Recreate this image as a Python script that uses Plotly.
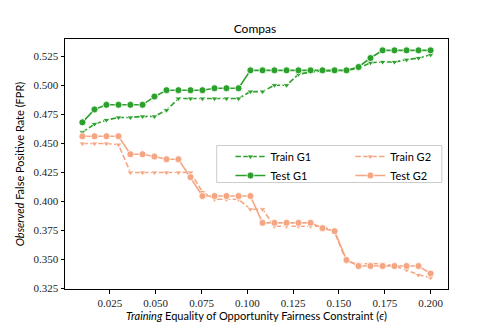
import plotly.graph_objects as go

eps = [0.0100, 0.0166, 0.0231, 0.0297, 0.0362, 0.0428, 0.0493, 0.0559, 0.0624, 0.0690,
       0.0755, 0.0821, 0.0886, 0.0952, 0.1017, 0.1083, 0.1148, 0.1214, 0.1279, 0.1345,
       0.1410, 0.1476, 0.1541, 0.1607, 0.1672, 0.1738, 0.1803, 0.1869, 0.1934, 0.2000]

train_g1 = [0.4593, 0.4664, 0.4699, 0.4721, 0.4721, 0.4730, 0.4730, 0.4784, 0.4884, 0.4884,
            0.4884, 0.4884, 0.4884, 0.4884, 0.4944, 0.4944, 0.4999, 0.4999, 0.5093, 0.5113,
            0.5121, 0.5127, 0.5127, 0.5144, 0.5193, 0.5199, 0.5199, 0.5219, 0.5233, 0.5261]
test_g1 = [0.4679, 0.4790, 0.4830, 0.4830, 0.4830, 0.4830, 0.4901, 0.4956, 0.4956, 0.4956,
           0.4956, 0.4973, 0.4973, 0.4973, 0.5127, 0.5127, 0.5127, 0.5127, 0.5127, 0.5127,
           0.5127, 0.5127, 0.5127, 0.5156, 0.5233, 0.5299, 0.5299, 0.5299, 0.5299, 0.5299]
train_g2 = [0.4496, 0.4496, 0.4496, 0.4487, 0.4247, 0.4247, 0.4247, 0.4247, 0.4247, 0.4247,
            0.4079, 0.4016, 0.4016, 0.4016, 0.3930, 0.3930, 0.3784, 0.3784, 0.3784, 0.3784,
            0.3784, 0.3736, 0.3479, 0.3460, 0.3460, 0.3460, 0.3441, 0.3407, 0.3364, 0.3341]
test_g2 = [0.4559, 0.4559, 0.4559, 0.4559, 0.4404, 0.4404, 0.4384, 0.4361, 0.4361, 0.4207,
           0.4044, 0.4044, 0.4044, 0.4044, 0.4044, 0.3813, 0.3813, 0.3813, 0.3813, 0.3813,
           0.3767, 0.3741, 0.3493, 0.3441, 0.3441, 0.3441, 0.3441, 0.3441, 0.3441, 0.3376]

x_ticks = [0.025, 0.050, 0.075, 0.100, 0.125, 0.150, 0.175, 0.200]
y_ticks = [0.325, 0.350, 0.375, 0.400, 0.425, 0.450, 0.475, 0.500, 0.525]

GREEN = "#2ca02c"
ORANGE = "#f4a582"
SANS = "Lato"
SERIF = "Liberation Serif"

fig = go.Figure()

def add(name, y, color, dash, symbol, size, legend):
    fig.add_trace(go.Scatter(
        x=eps, y=y, name=name, mode="lines+markers", legend=legend,
        line=dict(color=color, width=1.6, dash=dash),
        marker=dict(symbol=symbol, size=size, color=color,
                    line=dict(color="white", width=0.8)),
    ))

add("Train G1", train_g1, GREEN, "5.5px,2.4px", "triangle-down", 6, "legend")
add("Test G1", test_g1, GREEN, "solid", "circle", 7, "legend")
add("Train G2", train_g2, ORANGE, "5.5px,2.4px", "triangle-down", 6, "legend2")
add("Test G2", test_g2, ORANGE, "solid", "circle", 7, "legend2")

leg_common = dict(orientation="v", yanchor="top", xanchor="left",
                  bgcolor="rgba(0,0,0,0)", borderwidth=0,
                  font=dict(family=SANS, size=11, color="black"),
                  tracegroupgap=0)

# page body has an 8px default margin, so the figure is 8px smaller and margins shifted
fig.update_layout(
    width=490, height=324,
    margin=dict(l=54, r=50, t=31, b=42),
    paper_bgcolor="white", plot_bgcolor="white",
    title=dict(text="Compas", x=0.504, xanchor="center", y=0.935, yanchor="middle",
               font=dict(family=SANS, size=12, color="black")),
    showlegend=True,
    legend=dict(x=0.432, y=0.588, **leg_common),
    legend2=dict(x=0.745, y=0.588, **leg_common),
    shapes=[dict(type="rect", xref="paper", yref="paper",
                 x0=0.396, x1=0.984, y0=0.426, y1=0.574,
                 line=dict(color="#cccccc", width=1),
                 fillcolor="rgba(255,255,255,0.85)", layer="above")],
)

axis_common = dict(
    showgrid=False, zeroline=False, showline=True, linecolor="black", linewidth=1,
    mirror=True, ticks="outside", ticklen=3.5, tickwidth=0.8, tickcolor="black",
    tickfont=dict(family=SERIF, size=11, color="#222"),
)

fig.update_xaxes(
    range=[0.0005, 0.2095], tickvals=x_ticks,
    ticktext=[f"{v:.3f}" for v in x_ticks],
    title=dict(text="<i>Training</i> Equality of Opportunity Fairness Constraint (<i>ϵ</i>)",
               font=dict(family=SANS, size=11, color="black"), standoff=4),
    **axis_common,
)
fig.update_yaxes(
    range=[0.3243, 0.5397], tickvals=y_ticks,
    ticktext=[f"{v:.3f}" for v in y_ticks],
    title=dict(text="<i>Observed</i> False Positive Rate (FPR)",
               font=dict(family=SANS, size=11, color="black"), standoff=6),
    **axis_common,
)

fig.write_html("out.html")
